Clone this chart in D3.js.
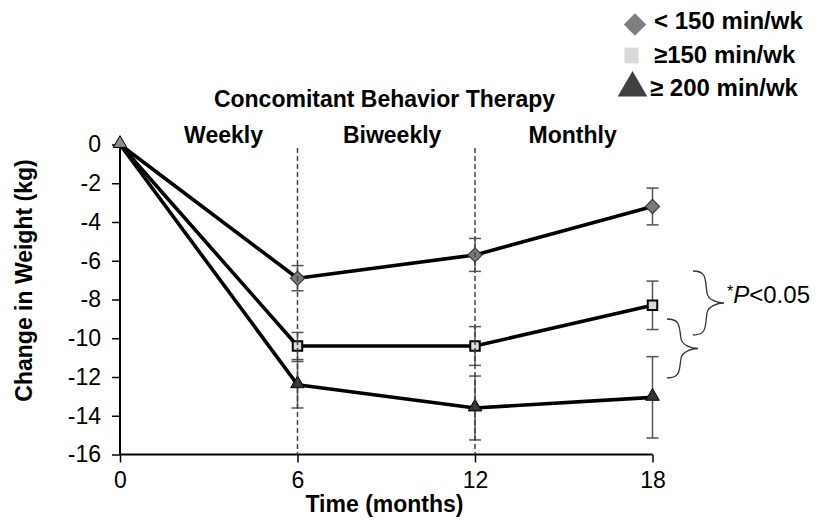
<!DOCTYPE html>
<html>
<head>
<meta charset="utf-8">
<script src="https://cdn.jsdelivr.net/npm/d3@7/dist/d3.min.js"></script>
<style>
  html, body { margin: 0; padding: 0; background: #fff; }
  svg { display: block; font-family: "Liberation Sans", Arial, sans-serif; }
</style>
</head>
<body>
<svg id="chart" width="817" height="522"></svg>
<script>
// Months of follow-up
const months = [0, 6, 12, 18];
const xTicks = [0, 6, 12, 18];
const yTicks = [0, -2, -4, -6, -8, -10, -12, -14, -16];

// Mean change in weight (kg) and error half-widths per exercise group
const seriesNames = ["< 150 min/wk", "\u2265150 min/wk", "\u2265 200 min/wk"];
const lowValues  = [0, -6.9, -5.7, -3.2];
const lowErr     = [0, 0.65, 0.85, 0.95];
const midValues  = [0, -10.4, -10.4, -8.3];
const midErr     = [0, 0.7, 1.0, 1.25];
const highValues = [0, -12.4, -13.6, -13.05];
const highErr    = [0, 1.2, 1.65, 2.1];

// Behaviour-therapy phases and where their labels sit (in months)
const phaseNames = ["Weekly", "Biweekly", "Monthly"];
const phaseCenters = [3.5, 9.2, 15.3];
const phaseBounds = [6, 12];

const svg = d3.select("#chart");
const FS = 23;

const x = d3.scaleLinear().domain([0, 18]).range([120, 652.5]);
const y = d3.scaleLinear().domain([-16, 0]).range([454.5, 144.5]);

const series = [
  { name: seriesNames[0], values: lowValues,  err: lowErr,  shape: "diamond" },
  { name: seriesNames[1], values: midValues,  err: midErr,  shape: "square" },
  { name: seriesNames[2], values: highValues, err: highErr, shape: "triangle" }
];

// Diamonds are squares turned 45 degrees
const markerStyle = {
  diamond:  { symbol: d3.symbolSquare,   fill: "#7a7a7a", stroke: "#3a3a3a", sw: 1.2, size: 100, rot: 45 },
  square:   { symbol: d3.symbolSquare,   fill: "#d9d9d9", stroke: "#000", sw: 2, size: 90, rot: 0 },
  triangle: { symbol: d3.symbolTriangle, fill: "#333333", stroke: "#000", sw: 1, size: 80, rot: 0 }
};

const fmt = d => String(d);

// Axes
const yAxis = d3.axisLeft(y).tickValues(yTicks).tickSize(8).tickPadding(11).tickFormat(fmt);
const xAxis = d3.axisBottom(x).tickValues(xTicks).tickSize(8).tickPadding(9).tickFormat(fmt);

const gy = svg.append("g").attr("transform", "translate(120,0)").call(yAxis);
const gx = svg.append("g").attr("transform", "translate(0,454.5)").call(xAxis);
[gx, gy].forEach(g => {
  g.select(".domain").attr("stroke", "#000").attr("stroke-width", 2);
  g.selectAll(".tick line").attr("stroke", "#000").attr("stroke-width", 1.5);
  g.selectAll("text").attr("font-size", FS).attr("fill", "#000")
    .attr("font-family", "'Liberation Sans', Arial, sans-serif");
});
gy.select(".domain").attr("d", `M0,${y(0)}V${y(-16)}`);
gx.select(".domain").attr("d", `M${x(0)},0H${x(18)}`);

// Series lines
const line = d3.line().x((d, i) => x(months[i])).y(d => y(d));
series.forEach(s => {
  svg.append("path").datum(s.values)
    .attr("d", line)
    .attr("fill", "none")
    .attr("stroke", "#000")
    .attr("stroke-width", 3.6)
    .attr("stroke-linejoin", "round");
});

// Error bars
series.forEach(s => {
  s.values.forEach((v, i) => {
    if (s.err[i] === 0) return;
    const cx = x(months[i]);
    const g = svg.append("g").attr("stroke", "#555").attr("stroke-width", 1.5);
    g.append("line").attr("x1", cx).attr("x2", cx).attr("y1", y(v + s.err[i])).attr("y2", y(v - s.err[i]));
    [v + s.err[i], v - s.err[i]].forEach(e => {
      g.append("line").attr("x1", cx - 6).attr("x2", cx + 6).attr("y1", y(e)).attr("y2", y(e));
    });
  });
});

// Markers
series.forEach(s => {
  const st = markerStyle[s.shape];
  s.values.forEach((v, i) => {
    if (i === 0) return;
    const dy = s.shape === "triangle" ? -1 : 0;
    svg.append("path")
      .attr("d", d3.symbol().type(st.symbol).size(st.size)())
      .attr("transform", `translate(${x(months[i])},${y(v) + dy}) rotate(${st.rot})`)
      .attr("fill", st.fill).attr("stroke", st.stroke).attr("stroke-width", st.sw);
  });
});
// Shared baseline point
svg.append("path")
  .attr("d", d3.symbol().type(d3.symbolTriangle).size(80)())
  .attr("transform", `translate(${x(0)},${y(0) - 1})`)
  .attr("fill", "#8a8a8a").attr("stroke", "#000").attr("stroke-width", 1);

// Phase boundaries
phaseBounds.forEach(m => {
  svg.append("line")
    .attr("x1", x(m)).attr("x2", x(m))
    .attr("y1", 148).attr("y2", y(-16))
    .attr("stroke", "#444").attr("stroke-width", 1.5)
    .attr("stroke-dasharray", "5,3");
});

// Titles
svg.append("text").attr("x", 384.5).attr("y", 107)
  .attr("text-anchor", "middle").attr("font-weight", "bold").attr("font-size", FS)
  .text("Concomitant Behavior Therapy");

phaseNames.forEach((p, i) => {
  svg.append("text").attr("x", x(phaseCenters[i])).attr("y", 143)
    .attr("text-anchor", "middle").attr("font-weight", "bold").attr("font-size", FS)
    .text(p);
});

svg.append("text").attr("x", 384.5).attr("y", 512)
  .attr("text-anchor", "middle").attr("font-weight", "bold").attr("font-size", FS)
  .text("Time (months)");

svg.append("text")
  .attr("transform", "translate(32,280.5) rotate(-90)")
  .attr("text-anchor", "middle").attr("font-weight", "bold").attr("font-size", FS)
  .text("Change in Weight (kg)");

// Legend
const legend = [
  { shape: d3.symbolSquare,  fill: "#7f7f7f", cx: 635, cy: 24.5, size: 250, tx: 654, ty: 29, rot: 45, sx: 1 },
  { shape: d3.symbolSquare,  fill: "#d9d9d9", cx: 631.5, cy: 55.5, size: 250, tx: 654, ty: 63, rot: 0, sx: 0.9 },
  { shape: d3.symbolTriangle,fill: "#404040", cx: 632.5, cy: 88, size: 380, tx: 650, ty: 96, rot: 0, sx: 1 }
];
legend.forEach((l, i) => {
  svg.append("path")
    .attr("d", d3.symbol().type(l.shape).size(l.size)())
    .attr("transform", `translate(${l.cx},${l.cy}) scale(${l.sx},1) rotate(${l.rot})`)
    .attr("fill", l.fill);
  svg.append("text").attr("x", l.tx).attr("y", l.ty)
    .attr("font-weight", "bold").attr("font-size", 24)
    .text(seriesNames[i]);
});

// Significance braces
function brace(xl, xs, xt, y0, y1) {
  const ym = (y0 + y1) / 2;
  return `M${xl},${y0} C${xs},${y0} ${xs - 2},${y0 + 8} ${xs},${ym - 10}` +
         ` C${xs + 1},${ym - 3} ${xt - 6},${ym} ${xt},${ym}` +
         ` C${xt - 6},${ym} ${xs + 1},${ym + 3} ${xs},${ym + 10}` +
         ` C${xs - 2},${y1 - 8} ${xs},${y1} ${xl},${y1}`;
}
svg.append("path").attr("d", brace(693, 707, 724, 271, 335))
  .attr("fill", "none").attr("stroke", "#333").attr("stroke-width", 1.3);
svg.append("path").attr("d", brace(667, 681, 698, 319, 378))
  .attr("fill", "none").attr("stroke", "#333").attr("stroke-width", 1.3);

const pt = svg.append("text").attr("x", 727).attr("y", 303).attr("font-size", 24);
pt.append("tspan").attr("font-size", 16).attr("dy", -6).text("*");
pt.append("tspan").attr("font-style", "italic").attr("dy", 6).text("P");
pt.append("tspan").text("<0.05");
</script>
</body>
</html>
